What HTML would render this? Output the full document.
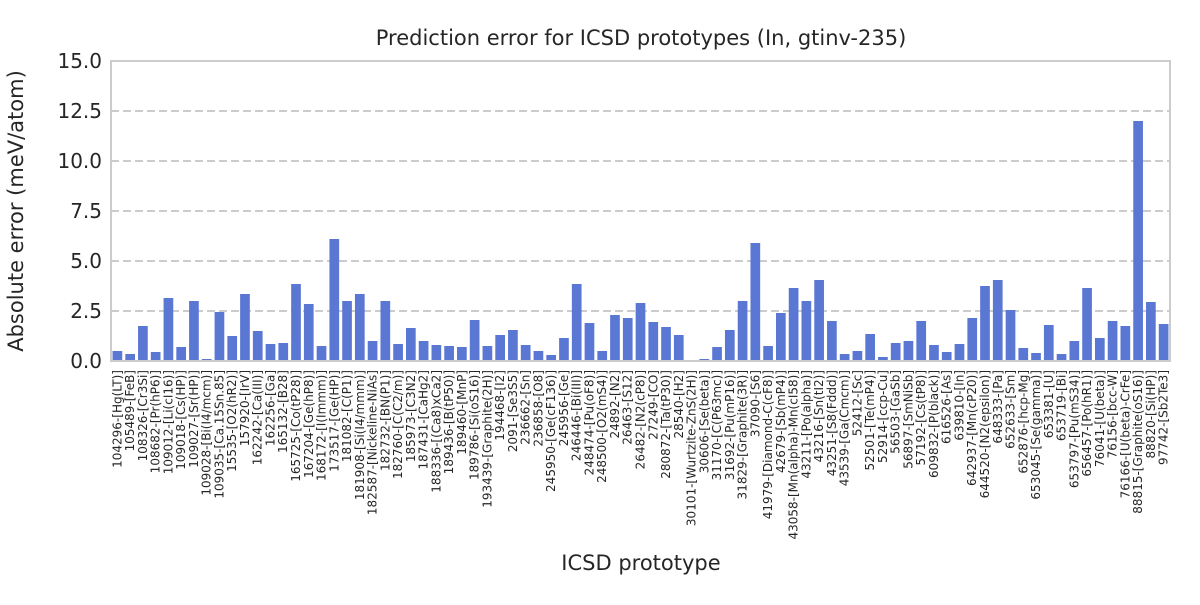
<!DOCTYPE html>
<html><head><meta charset="utf-8"><style>
body{margin:0;background:#fff;font-family:"Liberation Sans","DejaVu Sans",sans-serif}
</style></head><body>
<svg id="chart" width="1200" height="600" xmlns="http://www.w3.org/2000/svg" font-family="DejaVu Sans, Liberation Sans, sans-serif">
<rect width="1200" height="600" fill="#fff"/>
<text x="641" y="45" text-anchor="middle" font-size="21" fill="#262626">Prediction error for ICSD prototypes (In, gtinv-235)</text>
<text transform="translate(23,211) rotate(-90)" text-anchor="middle" font-size="21" fill="#262626">Absolute error (meV/atom)</text>
<text x="641" y="570" text-anchor="middle" font-size="21" fill="#262626">ICSD prototype</text>
<g id="grid"></g><g id="bars"></g><g id="yticks"></g><g id="xticks"></g>
<rect x="111" y="61" width="1059" height="300" fill="none" stroke="#cccccc" stroke-width="2"/>
</svg>
<script>
const categories=["104296-[Hg(LT)]","105489-[FeB]","108326-[Cr3Si]","108682-[Pr(hP6)]","109012-[Li(cI16)]","109018-[Cs(HP)]","109027-[Sr(HP)]","109028-[Bi(I4/mcm)]","109035-[Ca.15Sn.85]","15535-[O2(hR2)]","157920-[IrV]","162242-[Ca(III)]","162256-[Ga]","165132-[B28]","165725-[Co(tP28)]","167204-[Ge(hP8)]","168172-[I(Immm)]","173517-[Ge(HP)]","181082-[C(P1)]","181908-[Si(I4/mmm)]","182587-[Nickeline-NiAs]","182732-[BN(P1)]","182760-[C(C2/m)]","185973-[C3N2]","187431-[CaHg2]","188336-[(Ca8)xCa2]","189436-[B(tP50)]","189460-[MnP]","189786-[Si(oS16)]","193439-[Graphite(2H)]","194468-[I2]","2091-[Se3S5]","236662-[Sn]","236858-[O8]","245950-[Ge(cF136)]","245956-[Ge]","246446-[Bi(III)]","248474-[Pu(oF8)]","248500-[O2(mS4)]","24892-[N2]","26463-[S12]","26482-[N2(cP8)]","27249-[CO]","280872-[Ta(tP30)]","28540-[H2]","30101-[Wurtzite-ZnS(2H)]","30606-[Se(beta)]","31170-[C(P63mc)]","31692-[Pu(mP16)]","31829-[Graphite(3R)]","37090-[S6]","41979-[Diamond-C(cF8)]","42679-[Sb(mP4)]","43058-[Mn(alpha)-Mn(cI58)]","43211-[Po(alpha)]","43216-[Sn(tI2)]","43251-[S8(Fddd)]","43539-[Ga(Cmcm)]","52412-[Sc]","52501-[Te(mP4)]","52914-[ccp-Cu]","56503-[GaSb]","56897-[SmNiSb]","57192-[Cs(tP8)]","609832-[P(black)]","616526-[As]","639810-[In]","642937-[Mn(cP20)]","644520-[N2(epsilon)]","648333-[Pa]","652633-[Sm]","652876-[hcp-Mg]","653045-[Se(gamma)]","653381-[U]","653719-[Bi]","653797-[Pu(mS34)]","656457-[Po(hR1)]","76041-[U(beta)]","76156-[bcc-W]","76166-[U(beta)-CrFe]","88815-[Graphite(oS16)]","88820-[Si(HP)]","97742-[Sb2Te3]"];
const values=[0.5,0.35,1.75,0.45,3.15,0.7,3.0,0.1,2.45,1.25,3.35,1.5,0.85,0.9,3.85,2.85,0.75,6.1,3.0,3.35,1.0,3.0,0.85,1.65,1.0,0.8,0.75,0.7,2.05,0.75,1.3,1.55,0.8,0.5,0.3,1.15,3.85,1.9,0.5,2.3,2.15,2.9,1.95,1.7,1.3,0.02,0.1,0.7,1.55,3.0,5.9,0.75,2.4,3.65,3.0,4.05,2.0,0.35,0.5,1.35,0.2,0.9,1.0,2.0,0.8,0.45,0.85,2.15,3.75,4.05,2.55,0.65,0.4,1.8,0.35,1.0,3.65,1.15,2.0,1.75,12.0,2.95,1.85];
const yTicks=[0,2.5,5,7.5,10,12.5,15];
const yTickLabels=["0.0","2.5","5.0","7.5","10.0","12.5","15.0"];
const NS="http://www.w3.org/2000/svg";
const X0=111,X1=1170,Y0=361,Y1=61,YMAX=15;
const step=(X1-X0)/categories.length;
const xs=i=>X0+step*(i+0.5);
const ys=v=>Y0-(v/YMAX)*(Y0-Y1);
function mk(tag,attrs,parent){const e=document.createElementNS(NS,tag);for(const k in attrs)e.setAttribute(k,attrs[k]);document.getElementById(parent).appendChild(e);return e;}
yTicks.forEach((t,i)=>{
  if(t>0&&t<YMAX){const g=mk('line',{x1:X0,x2:X1,y1:ys(t),y2:ys(t),stroke:'#cccccc','stroke-width':2,'stroke-dasharray':'8,4'},'grid');
  
  }
  const l=mk('text',{x:X0-9,y:ys(t)+7,'text-anchor':'end','font-size':20,fill:'#262626'},'yticks');
  l.textContent=yTickLabels[i];
  
  
});
const bw=step*0.76;
values.forEach((v,i)=>{
  const r=mk('rect',{x:xs(i)-bw/2,y:ys(v),width:bw,height:Y0-ys(v),fill:'#5a77d4'},'bars');
  
  
  const t=mk('text',{transform:`translate(${xs(i)+4},370) rotate(-90)`,'text-anchor':'end','font-size':12,fill:'#262626'},'xticks');
  t.textContent=categories[i];
  
  
});
</script>
</body></html>
